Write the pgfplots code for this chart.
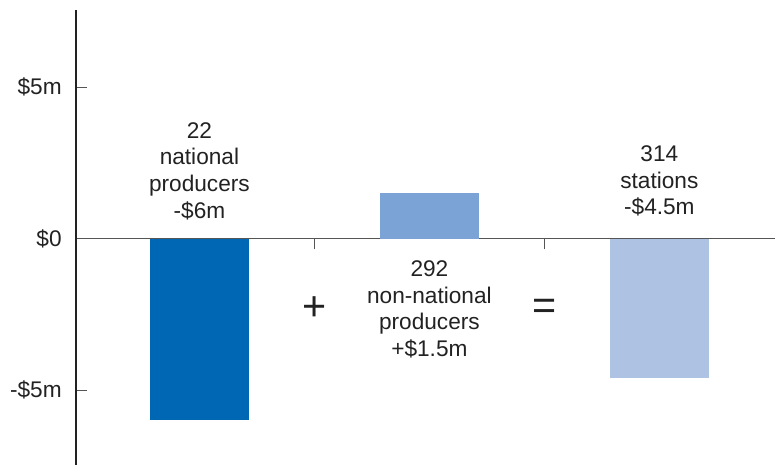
\documentclass[border=0pt]{standalone}
\usepackage{fontspec}
\setmainfont{Liberation Sans}
\usepackage{pgfplots}
\pgfplotsset{compat=1.18}
\definecolor{barA}{HTML}{0067B4}
\definecolor{barB}{HTML}{7BA3D6}
\definecolor{barC}{HTML}{AEC2E4}
\definecolor{txt}{HTML}{222222}
\definecolor{axgray}{HTML}{555555}
\begin{document}
\begin{tikzpicture}[font=\fontsize{17}{20}\selectfont, text=txt]
\begin{axis}[
    at={(0,0)}, anchor=south west,
    scale only axis,
    width=525pt, height=341.25pt,
    xmin=-0.537, xmax=2.504,
    ymin=-7.46, ymax=7.55,
    axis x line=middle,
    axis y line=left,
    axis line style={-, line width=1.1pt},
    x axis line style={axgray},
    y axis line style={txt},
    major tick length=8pt,
    ytick={-5,0,5},
    yticklabels={-\$5m,\$0,\$5m},
    ytick align=inside,
    y tick style={axgray, line width=0.8pt},
    yticklabel style={anchor=east, inner sep=0pt, xshift=-10.5pt, text=txt},
    xtick={0.5,1.5},
    xticklabels={},
    xtick align=outside,
    x tick style={axgray, line width=0.8pt},
    ybar, bar width=74.25pt, bar shift=0pt,
    clip=false,
]
\addplot[fill=barA, draw=none] coordinates {(0,-6)};
\addplot[fill=barB, draw=none] coordinates {(1,1.5)};
\addplot[fill=barC, draw=none] coordinates {(2,-4.6)};

\node[align=center, anchor=south, inner sep=0pt] at (axis cs:0,0.62)
  {22\\national\\producers\\-\$6m};
\node[align=center, anchor=north, inner sep=0pt] at (axis cs:1,-0.72)
  {292\\non-national\\producers\\+\$1.5m};
\node[align=center, anchor=south, inner sep=0pt] at (axis cs:2,0.72)
  {314\\stations\\-\$4.5m};
\node[font=\fontsize{31}{31}\selectfont] at (axis cs:0.5,-2.32) {+};
\node[font=\fontsize{31}{31}\selectfont] at (axis cs:1.5,-2.33) {=};
\end{axis}
\path[use as bounding box] (-57pt,-0.75pt) rectangle (525pt,348.75pt);
\end{tikzpicture}
\end{document}
